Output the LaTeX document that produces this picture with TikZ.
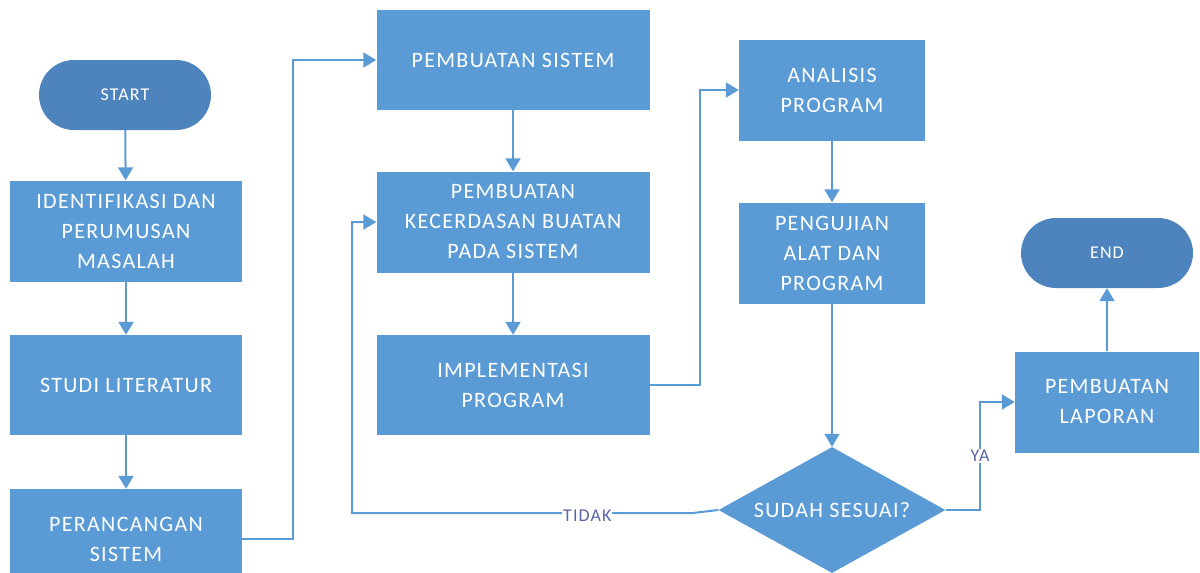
\documentclass[tikz,border=0pt]{standalone}
\usepackage{fontspec}
\setmainfont[LetterSpace=6]{Carlito}
\usetikzlibrary{arrows.meta,shapes.geometric,calc}
\definecolor{boxblue}{HTML}{5B9BD5}
\definecolor{pillblue}{HTML}{4E84BE}
\definecolor{lineblue}{HTML}{5B9BD5}
\definecolor{lblcol}{HTML}{5A67A8}
\begin{document}
\begin{tikzpicture}[x=1pt,y=-1pt,
  proc/.style={draw=none,fill=boxblue,text=white,align=center,inner sep=2pt,
    font=\fontsize{22}{30}\selectfont},
  pill/.style={draw=none,fill=pillblue,text=white,rounded corners=35pt,
    minimum width=172pt,minimum height=70pt,font=\fontsize{18}{20}\selectfont},
  dec/.style={diamond,draw=none,fill=boxblue,text=white,inner sep=0pt,
    minimum width=227pt,minimum height=126pt,aspect=1.8,font=\fontsize{22}{30}\selectfont},
  arr/.style={draw=lineblue,line width=2pt,-{Triangle[width=15pt,length=13pt]}},
  lbl/.style={text=lblcol,fill=white,inner sep=1pt,font=\fontsize{18}{20}\selectfont}]
\useasboundingbox (0,0) rectangle (1200,573);
% nodes
\node[pill] (start) at (125,95) {START};
\node[proc,minimum width=232pt,minimum height=101pt] (ident) at (126,231) {IDENTIFIKASI DAN\\PERUMUSAN\\MASALAH};
\node[proc,minimum width=232pt,minimum height=100pt] (studi) at (126,385) {STUDI LITERATUR};
\node[proc,minimum width=232pt,minimum height=100pt] (peranc) at (126,539) {PERANCANGAN\\SISTEM};
\node[proc,minimum width=273pt,minimum height=100pt] (psis) at (513,60) {PEMBUATAN SISTEM};
\node[proc,minimum width=273pt,minimum height=101pt] (kec) at (513,222) {PEMBUATAN\\KECERDASAN BUATAN\\PADA SISTEM};
\node[proc,minimum width=273pt,minimum height=100pt] (impl) at (513,385) {IMPLEMENTASI\\PROGRAM};
\node[proc,minimum width=186pt,minimum height=101pt] (anal) at (832,90) {ANALISIS\\PROGRAM};
\node[proc,minimum width=186pt,minimum height=101pt] (uji) at (832,253) {PENGUJIAN\\ALAT DAN\\PROGRAM};
\node[dec] (sesuai) at (832,510) {SUDAH SESUAI?};
\node[proc,minimum width=184pt,minimum height=101pt] (lap) at (1107,402) {PEMBUATAN\\LAPORAN};
\node[pill] (endn) at (1107,253) {END};
% helper coordinates
\coordinate (c1) at (293,300);
\coordinate (c2) at (700,300);
\coordinate (c3) at (980,450);
\coordinate (c4) at (693,513);
\coordinate (c5) at (352,513);
% connectors
\draw[arr] (start) -- (ident);
\draw[arr] (ident) -- (studi);
\draw[arr] (studi) -- (peranc);
\draw[arr] (peranc.east) -- (peranc.east -| c1) |- (psis.west);
\draw[arr] (psis) -- (kec);
\draw[arr] (kec) -- (impl);
\draw[arr] (impl.east) -- (impl.east -| c2) |- (anal.west);
\draw[arr] (anal) -- (uji);
\draw[arr] (uji) -- (sesuai.north);
\draw[arr] (sesuai.east) -- (sesuai.east -| c3) |- node[lbl,pos=0.25] {YA} (lap.west);
\draw[arr] (sesuai.west) -- (c4) -- node[lbl,pos=0.31,yshift=-3pt] {TIDAK} (c5) |- (kec.west);
\draw[arr] (lap) -- (endn);
\end{tikzpicture}
\end{document}
